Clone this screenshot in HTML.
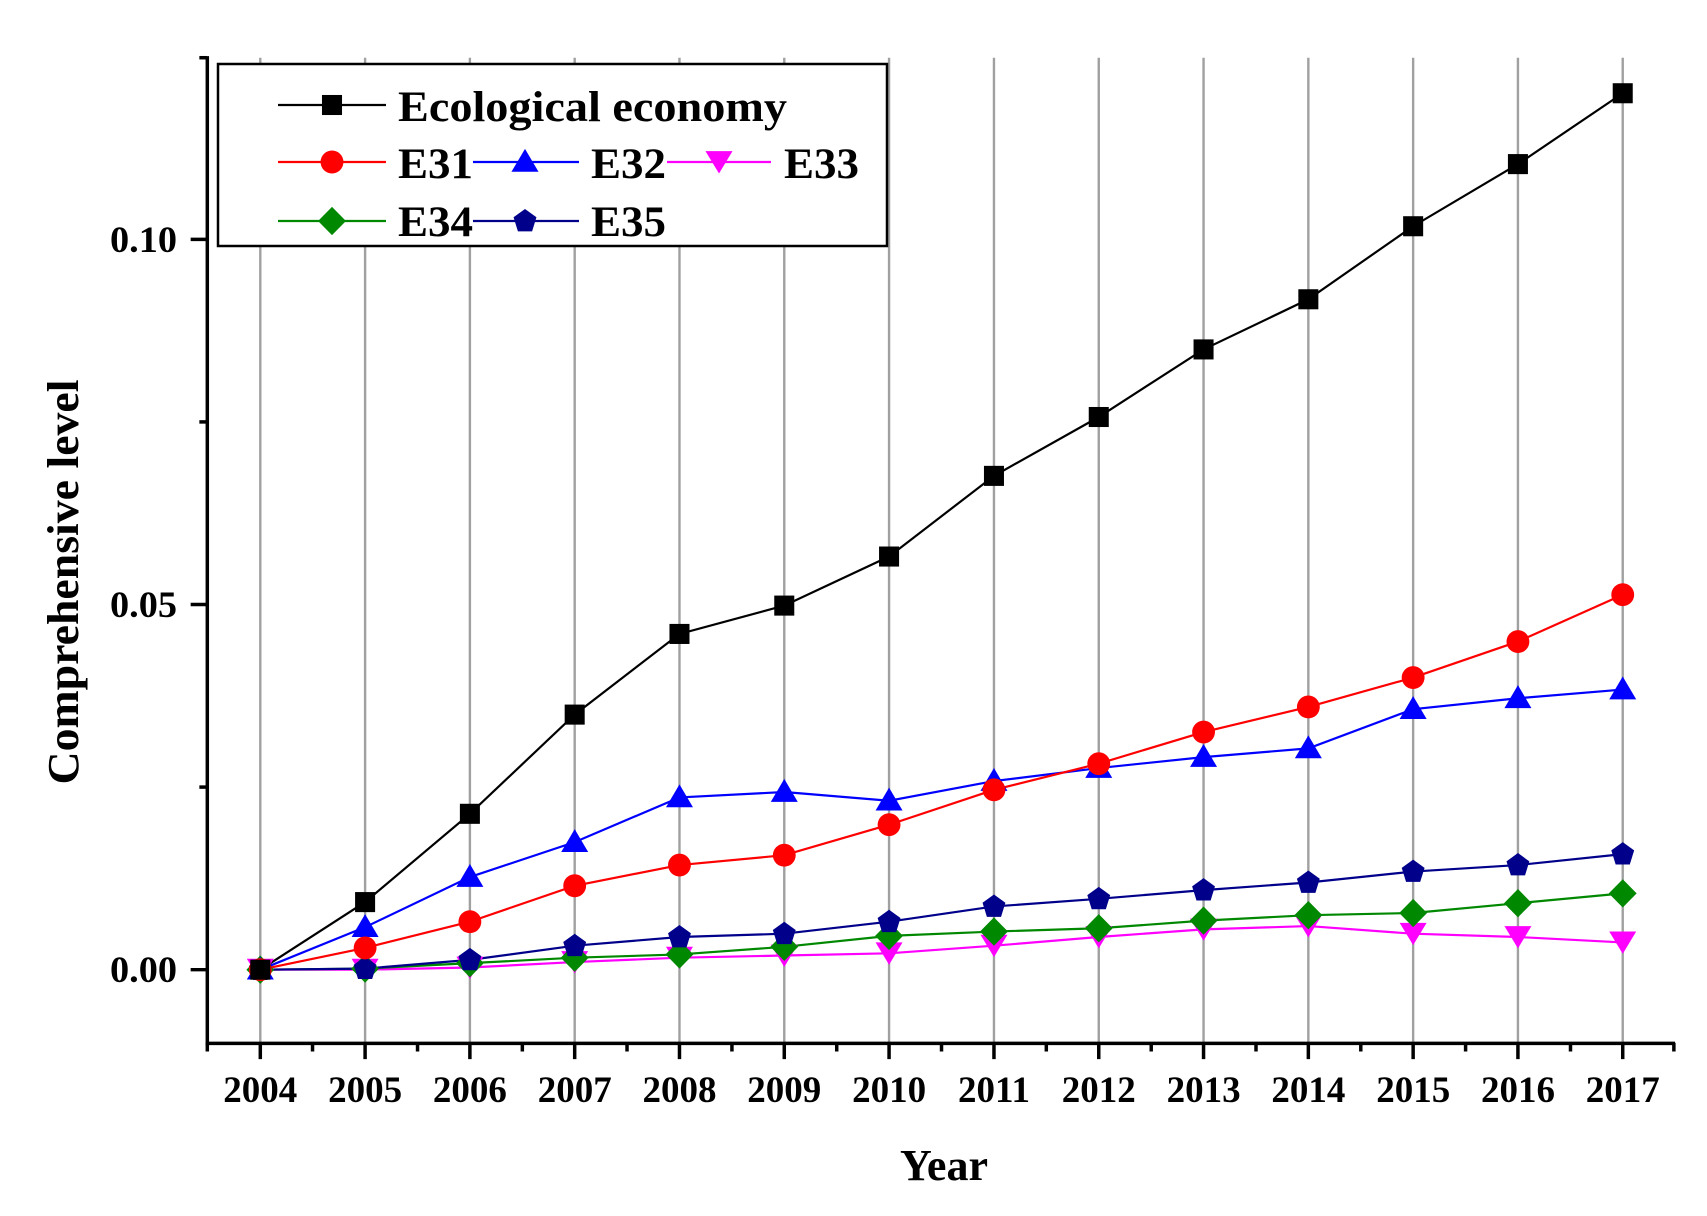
<!DOCTYPE html>
<html><head><style>html,body{margin:0;padding:0;background:#fff}svg{display:block}</style></head>
<body>
<svg width="1707" height="1216" viewBox="0 0 1707 1216" xmlns="http://www.w3.org/2000/svg" font-family="Liberation Serif, serif" font-weight="bold">
<rect width="1707" height="1216" fill="#fff"/>
<defs>
<rect id="sq" x="-9.2" y="-9.2" width="18.4" height="18.4" fill="#000"/>
<circle id="ci" r="10.5" fill="#f00"/>
<path id="tu" d="M0,-12 L12.4,9 L-12.4,9Z" fill="#00f"/>
<path id="td" d="M0,10.5 L12.4,-10 L-12.4,-10Z" fill="#f0f"/>
<path id="di" d="M0,-13 L12.8,0 L0,13 L-12.8,0Z" fill="#080"/>
<path id="pe" d="M0,-11 L10.5,-3.4 L6.5,9.5 L-6.5,9.5 L-10.5,-3.4Z" fill="#00008b"/>
</defs>
<g transform="matrix(1.0882 0 0 1.0901 1.31 -0.5)">
<g stroke="#a0a0a0" stroke-width="2.2">
<path d="M238 53.4V957.6M334.3 53.4V957.6M430.6 53.4V957.6M526.9 53.4V957.6M623.2 53.4V957.6M719.5 53.4V957.6M815.8 53.4V957.6M912.2 53.4V957.6M1008.5 53.4V957.6M1104.8 53.4V957.6M1201.1 53.4V957.6M1297.4 53.4V957.6M1393.7 53.4V957.6M1490 53.4V957.6"/>
</g>
<g stroke="#000" stroke-width="3.2" fill="none">
<line x1="189.3" y1="52" x2="189.3" y2="959"/><line x1="188" y1="957.6" x2="1538" y2="957.6"/>
<line x1="174" y1="890" x2="189" y2="890"/><line x1="174" y1="555" x2="189" y2="555"/><line x1="174" y1="220" x2="189" y2="220"/>
<line x1="182" y1="722.5" x2="189" y2="722.5"/><line x1="182" y1="387.5" x2="189" y2="387.5"/><line x1="182" y1="53.4" x2="189" y2="53.4"/>
<path d="M238 957v15M334.3 957v15M430.6 957v15M526.9 957v15M623.2 957v15M719.5 957v15M815.8 957v15M912.2 957v15M1008.5 957v15M1104.8 957v15M1201.1 957v15M1297.4 957v15M1393.7 957v15M1490 957v15"/>
<path d="M189.3 957v8M286 957v8M382.5 957v8M478.8 957v8M575 957v8M671.4 957v8M767.7 957v8M864 957v8M960.3 957v8M1056.7 957v8M1153 957v8M1249.3 957v8M1345.6 957v8M1442 957v8M1537 957v8"/>
</g>
<g fill="none" stroke-width="2">
<polyline stroke="#f0f" points="238,890 334.3,890 430.6,888 526.9,883 623.2,879 719.5,877 815.8,875 912.2,868 1008.5,860 1104.8,853 1201.1,850 1297.4,857 1393.7,860 1490,865"/>
<polyline stroke="#080" points="238,890 334.3,889 430.6,884 526.9,879 623.2,876 719.5,869 815.8,859 912.2,855 1008.5,852 1104.8,845 1201.1,840 1297.4,838 1393.7,829 1490,820"/>
<polyline stroke="#00008b" points="238,890 334.3,889 430.6,881 526.9,868 623.2,860 719.5,857 815.8,846 912.2,832 1008.5,825 1104.8,817 1201.1,810 1297.4,800 1393.7,794 1490,784"/>
<polyline stroke="#00f" points="238,890 334.3,851 430.6,805 526.9,773 623.2,732 719.5,727 815.8,735 912.2,717 1008.5,705 1104.8,695 1201.1,687 1297.4,651 1393.7,641 1490,633"/>
<polyline stroke="#f00" points="238,890 334.3,870 430.6,846 526.9,813 623.2,794 719.5,785 815.8,757 912.2,725 1008.5,701 1104.8,672 1201.1,649 1297.4,622 1393.7,589 1490,546"/>
<polyline stroke="#000" points="238,890 334.3,828 430.6,747 526.9,656 623.2,582 719.5,556 815.8,511 912.2,437 1008.5,383 1104.8,321 1201.1,275 1297.4,208 1393.7,151 1490,86"/>
</g>
<g>
<use href="#td" x="238" y="890"/><use href="#td" x="334.3" y="890"/><use href="#td" x="430.6" y="888"/><use href="#td" x="526.9" y="883"/><use href="#td" x="623.2" y="879"/><use href="#td" x="719.5" y="877"/><use href="#td" x="815.8" y="875"/><use href="#td" x="912.2" y="868"/><use href="#td" x="1008.5" y="860"/><use href="#td" x="1104.8" y="853"/><use href="#td" x="1201.1" y="850"/><use href="#td" x="1297.4" y="857"/><use href="#td" x="1393.7" y="860"/><use href="#td" x="1490" y="865"/>
<use href="#di" x="238" y="890"/><use href="#di" x="334.3" y="889"/><use href="#di" x="430.6" y="884"/><use href="#di" x="526.9" y="879"/><use href="#di" x="623.2" y="876"/><use href="#di" x="719.5" y="869"/><use href="#di" x="815.8" y="859"/><use href="#di" x="912.2" y="855"/><use href="#di" x="1008.5" y="852"/><use href="#di" x="1104.8" y="845"/><use href="#di" x="1201.1" y="840"/><use href="#di" x="1297.4" y="838"/><use href="#di" x="1393.7" y="829"/><use href="#di" x="1490" y="820"/>
<use href="#pe" x="238" y="890"/><use href="#pe" x="334.3" y="889"/><use href="#pe" x="430.6" y="881"/><use href="#pe" x="526.9" y="868"/><use href="#pe" x="623.2" y="860"/><use href="#pe" x="719.5" y="857"/><use href="#pe" x="815.8" y="846"/><use href="#pe" x="912.2" y="832"/><use href="#pe" x="1008.5" y="825"/><use href="#pe" x="1104.8" y="817"/><use href="#pe" x="1201.1" y="810"/><use href="#pe" x="1297.4" y="800"/><use href="#pe" x="1393.7" y="794"/><use href="#pe" x="1490" y="784"/>
<use href="#tu" x="238" y="890"/><use href="#tu" x="334.3" y="851"/><use href="#tu" x="430.6" y="805"/><use href="#tu" x="526.9" y="773"/><use href="#tu" x="623.2" y="732"/><use href="#tu" x="719.5" y="727"/><use href="#tu" x="815.8" y="735"/><use href="#tu" x="912.2" y="717"/><use href="#tu" x="1008.5" y="705"/><use href="#tu" x="1104.8" y="695"/><use href="#tu" x="1201.1" y="687"/><use href="#tu" x="1297.4" y="651"/><use href="#tu" x="1393.7" y="641"/><use href="#tu" x="1490" y="633"/>
<use href="#ci" x="238" y="890"/><use href="#ci" x="334.3" y="870"/><use href="#ci" x="430.6" y="846"/><use href="#ci" x="526.9" y="813"/><use href="#ci" x="623.2" y="794"/><use href="#ci" x="719.5" y="785"/><use href="#ci" x="815.8" y="757"/><use href="#ci" x="912.2" y="725"/><use href="#ci" x="1008.5" y="701"/><use href="#ci" x="1104.8" y="672"/><use href="#ci" x="1201.1" y="649"/><use href="#ci" x="1297.4" y="622"/><use href="#ci" x="1393.7" y="589"/><use href="#ci" x="1490" y="546"/>
<use href="#sq" x="238" y="890"/><use href="#sq" x="334.3" y="828"/><use href="#sq" x="430.6" y="747"/><use href="#sq" x="526.9" y="656"/><use href="#sq" x="623.2" y="582"/><use href="#sq" x="719.5" y="556"/><use href="#sq" x="815.8" y="511"/><use href="#sq" x="912.2" y="437"/><use href="#sq" x="1008.5" y="383"/><use href="#sq" x="1104.8" y="321"/><use href="#sq" x="1201.1" y="275"/><use href="#sq" x="1297.4" y="208"/><use href="#sq" x="1393.7" y="151"/><use href="#sq" x="1490" y="86"/>
</g>
</g>
<!-- legend in original coords -->
<rect x="218" y="64" width="669" height="182" fill="#fff" stroke="#000" stroke-width="2.5"/>
<g stroke-width="2.2" transform="matrix(1.0882 0 0 1.0901 0 0)">
</g>
<g stroke-width="2.2">
<line x1="278" y1="105" x2="386" y2="105" stroke="#000"/>
<line x1="278" y1="162" x2="386" y2="162" stroke="#f00"/>
<line x1="473" y1="162" x2="579" y2="162" stroke="#00f"/>
<line x1="667" y1="162" x2="771" y2="162" stroke="#f0f"/>
<line x1="278" y1="221" x2="386" y2="221" stroke="#080"/>
<line x1="473" y1="221" x2="579" y2="221" stroke="#00008b"/>
</g>
<g transform="translate(332,105) scale(1.09)"><use href="#sq"/></g>
<g transform="translate(332,162) scale(1.09)"><use href="#ci"/></g>
<g transform="translate(525,162) scale(1.09)"><use href="#tu"/></g>
<g transform="translate(719,162) scale(1.09)"><use href="#td"/></g>
<g transform="translate(332,221) scale(1.09)"><use href="#di"/></g>
<g transform="translate(525,221) scale(1.09)"><use href="#pe"/></g>
<g font-size="43">
<text x="398" y="121" textLength="389" lengthAdjust="spacingAndGlyphs">Ecological economy</text>
<text x="398" y="178" textLength="75" lengthAdjust="spacingAndGlyphs">E31</text>
<text x="591" y="178" textLength="75" lengthAdjust="spacingAndGlyphs">E32</text>
<text x="784" y="178" textLength="75" lengthAdjust="spacingAndGlyphs">E33</text>
<text x="398" y="236" textLength="75" lengthAdjust="spacingAndGlyphs">E34</text>
<text x="591" y="236" textLength="75" lengthAdjust="spacingAndGlyphs">E35</text>
</g>
<g font-size="37" text-anchor="end">
<text x="177" y="982" textLength="67" lengthAdjust="spacingAndGlyphs">0.00</text>
<text x="177" y="617" textLength="67" lengthAdjust="spacingAndGlyphs">0.05</text>
<text x="177" y="252" textLength="67" lengthAdjust="spacingAndGlyphs">0.10</text>
</g>
<g font-size="37" text-anchor="middle">
<text x="260.3" y="1102">2004</text><text x="365.1" y="1102">2005</text><text x="469.9" y="1102">2006</text><text x="574.7" y="1102">2007</text><text x="679.5" y="1102">2008</text><text x="784.3" y="1102">2009</text><text x="889.1" y="1102">2010</text><text x="994" y="1102">2011</text><text x="1098.8" y="1102">2012</text><text x="1203.6" y="1102">2013</text><text x="1308.4" y="1102">2014</text><text x="1413.2" y="1102">2015</text><text x="1518" y="1102">2016</text><text x="1622.7" y="1102">2017</text>
</g>
<text x="944" y="1180" font-size="44" text-anchor="middle">Year</text>
<text transform="translate(78,582) rotate(-90)" font-size="44" text-anchor="middle" textLength="405" lengthAdjust="spacingAndGlyphs">Comprehensive level</text>
</svg>
</body></html>
